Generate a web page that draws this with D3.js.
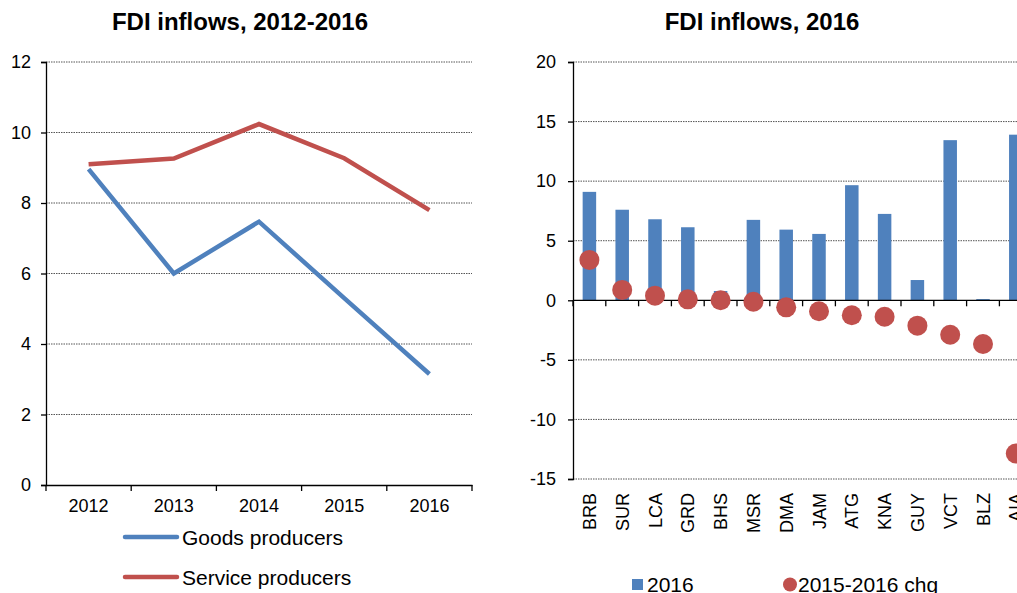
<!DOCTYPE html>
<html lang="en">
<head>
<meta charset="UTF-8">
<script src="https://d3js.org/d3.v7.min.js"></script>
<title>FDI inflows</title>
<style>
  body { margin: 0; background: #fff; }
  text { font-family: "Liberation Sans", Arial, sans-serif; fill: #000; }
</style>
</head>
<body>
<div id="chart"></div>
<script>
// left panel data
const years = ["2012", "2013", "2014", "2015", "2016"];
const goods = [8.96, 6.0, 7.47, 5.3, 3.15];
const services = [9.1, 9.26, 10.24, 9.27, 7.8];

// right panel data
const countries = ["BRB", "SUR", "LCA", "GRD", "BHS", "MSR", "DMA", "JAM", "ATG", "KNA", "GUY", "VCT", "BLZ", "AIA"];
const fdi2016 = [9.1, 7.6, 6.8, 6.13, 0.78, 6.75, 5.93, 5.57, 9.66, 7.25, 1.7, 13.44, 0.1, 13.9];
const chg = [3.39, 0.87, 0.39, 0.08, 0.0, -0.12, -0.59, -0.92, -1.26, -1.38, -2.13, -2.89, -3.67, -12.86];

const blue = "#4F81BD";
const red = "#C0504D";

const width = 1017, height = 593;
const svg = d3.select("#chart").append("svg")
  .attr("width", width).attr("height", height);

// ---------- left: line chart ----------
const L = { left: 46, right: 472, top: 62, bottom: 485 };

const xL = d3.scaleBand().domain(years).range([L.left, L.right]);
const yL = d3.scaleLinear().domain([0, 12]).range([L.bottom, L.top]);

svg.append("text")
  .attr("x", 240).attr("y", 30)
  .attr("text-anchor", "middle")
  .style("font-size", "24px").style("font-weight", "bold")
  .text("FDI inflows, 2012-2016");

svg.append("g")
  .selectAll("line")
  .data(d3.range(2, 13, 2))
  .join("line")
  .attr("x1", L.left).attr("x2", L.right)
  .attr("y1", d => yL(d)).attr("y2", d => yL(d))
  .attr("stroke", "#555").attr("stroke-width", 1)
  .attr("stroke-dasharray", "1.5,1");

const yAxisL = svg.append("g")
  .attr("transform", `translate(${L.left},0)`)
  .call(d3.axisLeft(yL).tickValues(d3.range(0, 13, 2)).tickFormat(d => String(d))
    .tickSize(5).tickPadding(10));
yAxisL.selectAll("text").style("font-size", "18px");

const xAxisL = svg.append("g")
  .attr("transform", `translate(0,${L.bottom})`)
  .call(d3.axisBottom(xL).tickSize(0).tickPadding(14));
xAxisL.selectAll("text").style("font-size", "18px");
// ticks on band edges
xAxisL.selectAll(".edge")
  .data(d3.range(years.length + 1))
  .join("line")
  .attr("class", "edge")
  .attr("x1", i => L.left + i * xL.step()).attr("x2", i => L.left + i * xL.step())
  .attr("y1", 0).attr("y2", 6)
  .attr("stroke", "#000");

[yAxisL, xAxisL].forEach(a => a.selectAll(".domain, line").attr("stroke", "#000").attr("stroke-width", 1.3));

const line = d3.line()
  .x((d, i) => xL(years[i]) + xL.bandwidth() / 2)
  .y(d => yL(d));

svg.append("path").datum(services)
  .attr("d", line).attr("fill", "none")
  .attr("stroke", red).attr("stroke-width", 4.5);
svg.append("path").datum(goods)
  .attr("d", line).attr("fill", "none")
  .attr("stroke", blue).attr("stroke-width", 4.5);

const legL = [
  { name: "Goods producers", color: blue, y: 537 },
  { name: "Service producers", color: red, y: 577 }
];
legL.forEach(d => {
  svg.append("line")
    .attr("x1", 125).attr("x2", 177)
    .attr("y1", d.y).attr("y2", d.y)
    .attr("stroke", d.color).attr("stroke-width", 4.5)
    .attr("stroke-linecap", "round");
  svg.append("text")
    .attr("x", 182).attr("y", d.y + 7.5)
    .style("font-size", "21px")
    .text(d.name);
});

// ---------- right: bars + dots ----------
const R = { left: 573, top: 62, bottom: 479 };
const step = 32.8;

const xR = d3.scaleBand().domain(countries)
  .range([R.left, R.left + step * countries.length]);
const yR = d3.scaleLinear().domain([-15, 20]).range([R.bottom, R.top]);

svg.append("text")
  .attr("x", 762).attr("y", 30)
  .attr("text-anchor", "middle")
  .style("font-size", "24px").style("font-weight", "bold")
  .text("FDI inflows, 2016");

svg.append("g")
  .selectAll("line")
  .data([20, 15, 10, 5, -5, -10, -15])
  .join("line")
  .attr("x1", R.left).attr("x2", width)
  .attr("y1", d => yR(d)).attr("y2", d => yR(d))
  .attr("stroke", "#555").attr("stroke-width", 1)
  .attr("stroke-dasharray", "1.5,1");

const barW = 13.5;
svg.append("g")
  .selectAll("rect")
  .data(fdi2016)
  .join("rect")
  .attr("x", (d, i) => xR(countries[i]) + xR.bandwidth() / 2 - barW / 2)
  .attr("width", barW)
  .attr("y", d => yR(d))
  .attr("height", d => yR(0) - yR(d))
  .attr("fill", blue);

const yAxisR = svg.append("g")
  .attr("transform", `translate(${R.left},0)`)
  .call(d3.axisLeft(yR).tickValues(d3.range(-15, 21, 5)).tickFormat(d => String(d))
    .tickSize(5).tickPadding(12));
yAxisR.selectAll("text").style("font-size", "18px");

const zeroAxis = svg.append("g")
  .attr("transform", `translate(0,${yR(0)})`);
zeroAxis.append("line")
  .attr("x1", R.left).attr("x2", width)
  .attr("y1", 0).attr("y2", 0);
zeroAxis.selectAll(".edge")
  .data(d3.range(countries.length + 1))
  .join("line")
  .attr("class", "edge")
  .attr("x1", i => R.left + i * step).attr("x2", i => R.left + i * step)
  .attr("y1", 0).attr("y2", 6);
[yAxisR, zeroAxis].forEach(a => a.selectAll(".domain, line").attr("stroke", "#000").attr("stroke-width", 1.3));

svg.append("g")
  .selectAll("circle")
  .data(chg)
  .join("circle")
  .attr("cx", (d, i) => xR(countries[i]) + xR.bandwidth() / 2)
  .attr("cy", d => yR(d))
  .attr("r", 10)
  .attr("fill", red);

svg.append("g")
  .selectAll("text")
  .data(countries)
  .join("text")
  .attr("transform", d => `translate(${xR(d) + xR.bandwidth() / 2 + 6.5},${R.bottom + 14}) rotate(-90)`)
  .attr("text-anchor", "end")
  .style("font-size", "18px")
  .text(d => d);

// legend right
svg.append("rect")
  .attr("x", 632).attr("y", 579).attr("width", 11).attr("height", 11)
  .attr("fill", blue);
svg.append("text")
  .attr("x", 647).attr("y", 592)
  .style("font-size", "21px")
  .text("2016");
svg.append("circle")
  .attr("cx", 790).attr("cy", 584.5).attr("r", 7)
  .attr("fill", red);
svg.append("text")
  .attr("x", 798).attr("y", 592)
  .style("font-size", "21px")
  .text("2015-2016 chg");
</script>
</body>
</html>
